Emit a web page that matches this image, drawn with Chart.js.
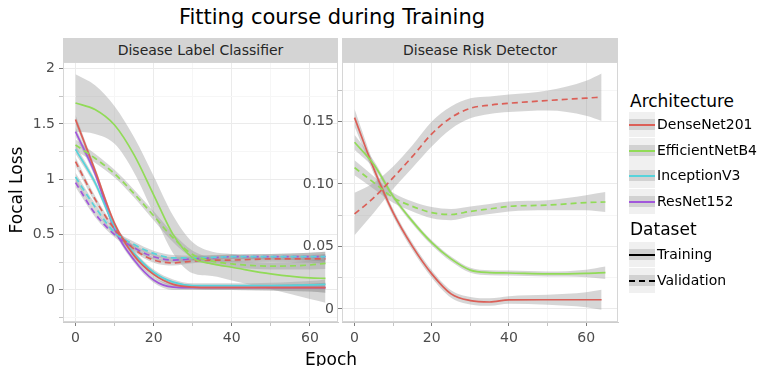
<!DOCTYPE html>
<html>
<head>
<meta charset="utf-8">
<script src="https://cdn.jsdelivr.net/npm/chart.js@4.4.1/dist/chart.umd.min.js"></script>
<style>
  body { margin: 0; background: #fff; font-family: "DejaVu Sans", sans-serif; }
  #wrap { position: relative; width: 758px; height: 366px; overflow: hidden; }
  canvas { position: absolute; }
  .txt { position: absolute; white-space: nowrap; color: #000; }
  .strip { position: absolute; top: 38px; height: 24px; line-height: 24px; background: #d4d4d4;
           color: #262626; font-size: 14px; text-align: center; }
  .key { position: absolute; left: 629px; width: 26px; height: 25px; background: #f0f0f0; }
  .key .band { position: absolute; left: 0; right: 0; top: 7px; height: 11px; background: #d2d2d2; }
  .key .ln { position: absolute; left: 0; right: 0; top: 12px; height: 0; border-top: 2px solid #000; }
  .lab { position: absolute; left: 657px; font-size: 14px; color: #000; }
</style>
</head>
<body>
<div id="wrap">
  <canvas id="cls" width="345" height="304" style="left:0;top:62px"></canvas>
  <canvas id="risk" width="340" height="304" style="left:290px;top:62px"></canvas>
  <div class="txt" style="left:0;width:664px;top:5px;text-align:center;font-size:21px">Fitting course during Training</div>
  <div class="strip" style="left:63px;width:275px">Disease Label Classifier</div>
  <div class="strip" style="left:342px;width:276px">Disease Risk Detector</div>
  <div class="txt" style="left:305px;top:349px;font-size:17px">Epoch</div>
  <div class="txt" style="left:-28px;top:180px;font-size:17px;transform:rotate(-90deg);width:88px;text-align:center">Focal Loss</div>
  <div id="legend"></div>
</div>
<script>
// epochs sampled off the smoothed curves
const epochs = [0, 5, 10, 15, 20, 25, 30, 35, 40, 50, 60, 64];
const epochsRiskGreen = [0, 5, 10, 15, 20, 25, 30, 35, 40, 50, 60, 65];

const architectures = ['DenseNet201', 'EfficientNetB4', 'InceptionV3', 'ResNet152'];
const archColors = ['#db5f57', '#91db57', '#57d3db', '#a157db'];
const datasetNames = ['Training', 'Validation'];

// Disease Label Classifier
const clsDenseTrain = [1.54, 1.08, 0.60, 0.31, 0.14, 0.05, 0.025, 0.02, 0.02, 0.02, 0.02, 0.02];
const clsDenseVal   = [1.16, 0.82, 0.55, 0.37, 0.27, 0.245, 0.26, 0.27, 0.27, 0.28, 0.28, 0.28];
const clsEffTrain   = [1.69, 1.63, 1.49, 1.22, 0.86, 0.50, 0.29, 0.235, 0.205, 0.145, 0.108, 0.105];
const clsEffVal     = [1.31, 1.19, 1.05, 0.87, 0.67, 0.47, 0.32, 0.26, 0.235, 0.215, 0.225, 0.24];
const clsIncTrain   = [1.27, 0.97, 0.57, 0.33, 0.16, 0.07, 0.04, 0.04, 0.04, 0.04, 0.045, 0.05];
const clsIncVal     = [1.02, 0.75, 0.52, 0.41, 0.33, 0.29, 0.29, 0.295, 0.30, 0.30, 0.30, 0.30];
const clsResTrain   = [1.43, 1.05, 0.55, 0.27, 0.09, 0.025, 0.02, 0.02, 0.02, 0.02, 0.02, 0.02];
const clsResVal     = [0.97, 0.69, 0.50, 0.38, 0.30, 0.27, 0.28, 0.29, 0.30, 0.30, 0.30, 0.30];
// half widths of the grey confidence bands
const clsEffTrainBand = [0.26, 0.22, 0.17, 0.16, 0.17, 0.17, 0.14, 0.11, 0.12, 0.14, 0.19, 0.22];
const clsEffValBand   = [0.05, 0.04, 0.035, 0.035, 0.04, 0.04, 0.035, 0.03, 0.03, 0.03, 0.04, 0.05];
const clsNarrowBand   = [0.04, 0.03, 0.025, 0.025, 0.025, 0.025, 0.02, 0.02, 0.02, 0.025, 0.035, 0.045];

// Disease Risk Detector
const riskDenseTrain = [0.153, 0.112, 0.077, 0.050, 0.028, 0.012, 0.0066, 0.0055, 0.0072, 0.0073, 0.0073, 0.0073];
const riskDenseVal   = [0.076, 0.089, 0.105, 0.122, 0.140, 0.153, 0.1605, 0.163, 0.1645, 0.1667, 0.1686, 0.1694];
const riskEffTrain   = [0.1333, 0.1155, 0.090, 0.070, 0.053, 0.040, 0.031, 0.029, 0.0287, 0.028, 0.0284, 0.029];
const riskEffVal     = [0.113, 0.101, 0.089, 0.082, 0.077, 0.0755, 0.078, 0.080, 0.082, 0.083, 0.085, 0.0855];
const riskDenseTrainBand = [0.007, 0.004, 0.003, 0.003, 0.003, 0.003, 0.003, 0.003, 0.003, 0.004, 0.006, 0.008];
const riskDenseValBand   = [0.017, 0.012, 0.009, 0.009, 0.010, 0.009, 0.008, 0.007, 0.007, 0.008, 0.014, 0.019];
const riskEffTrainBand   = [0.006, 0.003, 0.002, 0.002, 0.002, 0.002, 0.002, 0.002, 0.002, 0.002, 0.003, 0.005];
const riskEffValBand     = [0.006, 0.005, 0.004, 0.004, 0.0045, 0.0045, 0.004, 0.004, 0.004, 0.004, 0.006, 0.008];

// axis ticks
const xMajor = [0, 20, 40, 60];
const xMinor = [10, 30, 50];
const clsYMajor = [0, 0.5, 1, 1.5, 2];
const clsYLabels = ['0', '0.5', '1', '1.5', '2'];
const clsYMinor = [-0.25, 0.25, 0.75, 1.25, 1.75];
const riskYMajor = [0, 0.05, 0.1, 0.15];
const riskYLabels = ['0', '0.05', '0.10', '0.15'];
const riskYMinor = [0.025, 0.075, 0.125, 0.175];

const tickFont = { family: 'DejaVu Sans', size: 14 };

function series(xs, ys, band, color, dashed) {
  const line = { cubicInterpolationMode: 'monotone', pointRadius: 0 };
  return [
    { ...line, data: xs.map((x, i) => ({ x, y: ys[i] + band[i] })), borderWidth: 0, fill: false, order: 2 },
    { ...line, data: xs.map((x, i) => ({ x, y: ys[i] - band[i] })), borderWidth: 0,
      fill: '-1', backgroundColor: 'rgba(153,153,153,0.4)', order: 2 },
    { ...line, data: xs.map((x, i) => ({ x, y: ys[i] })), borderColor: color, borderWidth: 1.7,
      borderDash: dashed ? [6, 4] : [], fill: false, order: 1 }
  ];
}

function axis(major, minor, labels, min, max, fit) {
  const all = major.concat(minor).sort((a, b) => a - b);
  return {
    type: 'linear', min, max,
    afterBuildTicks: s => { s.ticks = all.map(v => ({ value: v })); },
    afterFit: s => {
      fit(s);
      // keep the panel edges where they are, no room for label overhang
      s.paddingTop = 0; s.paddingBottom = 0; s.paddingLeft = 0; s.paddingRight = 0;
    },
    border: { color: '#cccccc' },
    grid: {
      color: c => major.includes(c.tick.value) ? '#ebebeb' : '#f6f6f6',
      tickColor: c => major.includes(c.tick.value) ? '#7f7f7f' : '#c4c4c4',
      tickLength: 4
    },
    ticks: {
      autoSkip: false, maxRotation: 0, font: tickFont, color: '#4d4d4d', padding: 4,
      callback: v => {
        const i = major.indexOf(v);
        return i < 0 ? '' : labels[i];
      }
    }
  };
}

const framePlugin = {
  id: 'frame',
  beforeDatasetsDraw(chart) {
    const a = chart.chartArea, ctx = chart.ctx;
    ctx.save();
    ctx.strokeStyle = '#d6d6d6';
    ctx.lineWidth = 1;
    ctx.strokeRect(a.left + 0.5, a.top + 0.5, a.right - a.left - 1, a.bottom - a.top - 1);
    ctx.restore();
  }
};

function panel(id, datasets, xMin, xMax, yMajor, yMinor, yLabels, yMin, yMax, yWidth, padRight) {
  return new Chart(document.getElementById(id), {
    type: 'line',
    data: { datasets },
    options: {
      responsive: false, animation: false, devicePixelRatio: 1,
      layout: { padding: { left: 0, top: 0, right: padRight, bottom: 0 }, autoPadding: false },
      plugins: { legend: { display: false }, tooltip: { enabled: false } },
      scales: {
        x: axis(xMajor, xMinor, xMajor.map(String), xMin, xMax, s => { s.height = 44; }),
        y: axis(yMajor, yMinor, yLabels, yMin, yMax, s => { s.width = yWidth; })
      }
    },
    plugins: [framePlugin]
  });
}

const clsData = [].concat(
  series(epochs, clsEffTrain, clsEffTrainBand, archColors[1], false),
  series(epochs, clsEffVal, clsEffValBand, archColors[1], true),
  series(epochs, clsDenseVal, clsNarrowBand, archColors[0], true),
  series(epochs, clsIncVal, clsNarrowBand, archColors[2], true),
  series(epochs, clsResVal, clsNarrowBand, archColors[3], true),
  series(epochs, clsDenseTrain, clsNarrowBand, archColors[0], false),
  series(epochs, clsIncTrain, clsNarrowBand, archColors[2], false),
  series(epochs, clsResTrain, clsNarrowBand, archColors[3], false)
);

const riskData = [].concat(
  series(epochs, riskDenseVal, riskDenseValBand, archColors[0], true),
  series(epochsRiskGreen, riskEffVal, riskEffValBand, archColors[1], true),
  series(epochsRiskGreen, riskEffTrain, riskEffTrainBand, archColors[1], false),
  series(epochs, riskDenseTrain, riskDenseTrainBand, archColors[0], false)
);

panel('cls', clsData, -3.2, 67.2, clsYMajor, clsYMinor, clsYLabels, -0.29, 2.06, 63, 7);
panel('risk', riskData, -3.25, 68.25, riskYMajor, riskYMinor, riskYLabels, -0.0105, 0.1975, 52, 12);

// legend
const legend = document.getElementById('legend');
function addText(text, top, size, left) {
  const d = document.createElement('div');
  d.className = 'txt';
  d.style.left = left + 'px';
  d.style.top = top + 'px';
  d.style.fontSize = size + 'px';
  d.textContent = text;
  legend.appendChild(d);
}
function addKey(top, color, dashed, label) {
  const k = document.createElement('div');
  k.className = 'key';
  k.style.top = top + 'px';
  k.innerHTML = '<div class="band"></div><div class="ln" style="border-top:2px ' +
    (dashed ? 'dashed' : 'solid') + ' ' + color + '"></div>';
  legend.appendChild(k);
  const l = document.createElement('div');
  l.className = 'lab';
  l.style.top = (top + 4) + 'px';
  l.textContent = label;
  legend.appendChild(l);
}
addText('Architecture', 91, 17, 630);
architectures.forEach((a, i) => addKey(112 + i * 25.5, archColors[i], false, a));
addText('Dataset', 219, 17, 630);
datasetNames.forEach((d, i) => addKey(242 + i * 25.5, '#000', i === 1, d));
</script>
</body>
</html>
